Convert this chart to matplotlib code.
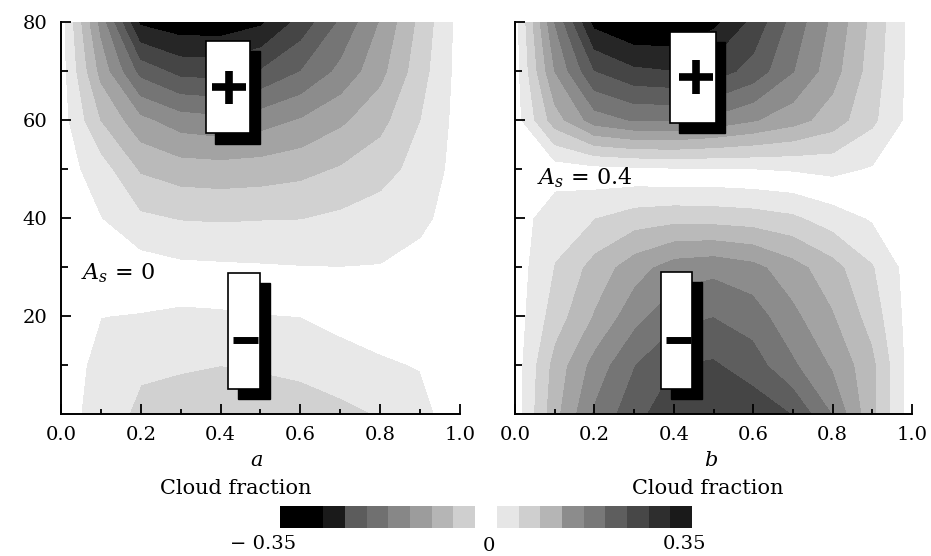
import matplotlib
matplotlib.use("Agg")
import matplotlib.pyplot as plt
import numpy as np
from matplotlib.cm import ScalarMappable
from matplotlib.colors import BoundaryNorm, ListedColormap
from matplotlib.patches import Rectangle
from matplotlib.ticker import FormatStrFormatter, MultipleLocator
from matplotlib.transforms import ScaledTranslation

plt.rcParams["font.family"] = ["DejaVu Serif"]
plt.rcParams["mathtext.fontset"] = "dejavuserif"

# grid: cloud fraction (x) and latitude rows (top to bottom)
cloud = [0.0, 0.1, 0.2, 0.3, 0.4, 0.5, 0.6, 0.7, 0.8, 0.9, 1.0]
lat = [80, 70, 60, 50, 40, 30, 20, 10, 0]

# panel a, A_s = 0
field_a = [
    [0, 0.177, 0.355, 0.372, 0.372, 0.355, 0.298, 0.232, 0.162, 0.081, 0.004],
    [0, 0.140, 0.251, 0.287, 0.291, 0.272, 0.238, 0.192, 0.140, 0.070, 0.004],
    [0, 0.092, 0.155, 0.184, 0.192, 0.181, 0.162, 0.136, 0.103, 0.055, 0.004],
    [0, 0.037, 0.096, 0.111, 0.114, 0.111, 0.103, 0.088, 0.070, 0.041, 0.004],
    [0, 0.017, 0.048, 0.057, 0.059, 0.057, 0.056, 0.048, 0.037, 0.026, 0.002],
    [0, 0.000, 0.002, 0.011, 0.013, 0.015, 0.017, 0.018, 0.017, 0.007, 0],
    [0, -0.018, -0.020, -0.026, -0.024, -0.020, -0.018, -0.011, -0.006, -0.007, 0],
    [0, -0.029, -0.050, -0.053, -0.055, -0.052, -0.050, -0.029, -0.022, -0.017, 0],
    [0, -0.037, -0.063, -0.066, -0.077, -0.074, -0.066, -0.068, -0.052, -0.029, 0],
]

# panel b, A_s = 0.4
field_b = [
    [0, 0.203, 0.360, 0.387, 0.387, 0.358, 0.302, 0.225, 0.158, 0.081, 0.004],
    [0, 0.166, 0.275, 0.305, 0.312, 0.295, 0.262, 0.204, 0.144, 0.074, 0.004],
    [0, 0.111, 0.184, 0.206, 0.206, 0.192, 0.169, 0.144, 0.111, 0.063, 0.004],
    [0, 0.000, 0.007, 0.011, 0.015, 0.015, 0.018, 0.022, 0.028, 0.015, 0],
    [0, -0.041, -0.055, -0.074, -0.081, -0.079, -0.074, -0.063, -0.037, -0.015, 0],
    [0, -0.057, -0.107, -0.150, -0.184, -0.192, -0.178, -0.144, -0.107, -0.059, 0],
    [0, -0.074, -0.133, -0.190, -0.229, -0.239, -0.222, -0.176, -0.133, -0.077, 0],
    [0, -0.107, -0.181, -0.239, -0.276, -0.282, -0.258, -0.210, -0.162, -0.103, 0],
    [0, -0.118, -0.210, -0.265, -0.302, -0.309, -0.302, -0.276, -0.203, -0.103, 0],
]

bounds = np.linspace(-0.35, 0.35, 20)
cbar_ticks = [-0.35, 0, 0.35]
cbar_ticklabels = ["\u2212 0.35", "0", "0.35"]

# shading: same grey for the same magnitude in the panels
side = [0.15, 0.27, 0.37, 0.46, 0.55, 0.64, 0.73, 0.82, 0.91]
field_greys = side + [1.0] + side[::-1]
# the printed colour bar as it appears
cbar_greys = [0.0, 0.0, 0.1, 0.36, 0.44, 0.53, 0.61, 0.71, 0.81, 1.0,
              0.9, 0.81, 0.71, 0.55, 0.47, 0.37, 0.28, 0.18, 0.1]

# sign boxes: (x0, y0, width, height) in data units, sign, sign centre
boxes_a = [((0.363, 57.3, 0.111, 18.8), "+", (0.421, 66.7)),
           ((0.419, 5.1, 0.080, 23.7), "-", (0.462, 15.1))]
boxes_b = [((0.390, 59.4, 0.116, 18.6), "+", (0.456, 68.8)),
           ((0.368, 5.1, 0.078, 23.9), "-", (0.412, 15.1))]
shadow_dx, shadow_dy = 0.024, -2.1


def grey_cmap(greys):
    return ListedColormap([(g, g, g) for g in greys])


def draw_box(ax, rect, sign, centre):
    x0, y0, w, h = rect
    ax.add_patch(Rectangle((x0 + shadow_dx, y0 + shadow_dy), w, h,
                           facecolor="black", edgecolor="black", zorder=3))
    ax.add_patch(Rectangle((x0, y0), w, h, facecolor="white",
                           edgecolor="black", linewidth=1.2, zorder=4))
    cx, cy = centre
    if sign == "+":
        ax.plot([cx - 0.043, cx + 0.043], [cy, cy], color="black",
                linewidth=5.5, solid_capstyle="butt", zorder=5)
        ax.plot([cx, cx], [cy - 3.4, cy + 3.4], color="black",
                linewidth=5.5, solid_capstyle="butt", zorder=5)
    else:
        ax.plot([cx - 0.031, cx + 0.031], [cy, cy], color="black",
                linewidth=5.0, solid_capstyle="butt", zorder=5)


def draw_panel(ax, field, boxes, label, label_pos, show_ylabels):
    cmap = grey_cmap(field_greys)
    cmap.set_over("black")
    cmap.set_under("black")
    norm = BoundaryNorm(bounds, cmap.N)
    ax.contourf(cloud, lat, np.array(field), levels=bounds, cmap=cmap,
                norm=norm, extend="both", antialiased=False)
    for rect, sign, centre in boxes:
        draw_box(ax, rect, sign, centre)
    ax.text(label_pos[0], label_pos[1], label, fontsize=16, va="center",
            zorder=6)

    ax.set_xlim(0, 1)
    ax.set_ylim(0, 80)
    for s in ("top", "right"):
        ax.spines[s].set_visible(False)
    for s in ("left", "bottom"):
        ax.spines[s].set_linewidth(1.4)
        ax.spines[s].set_zorder(7)
    ax.xaxis.set_major_locator(MultipleLocator(0.2))
    ax.xaxis.set_minor_locator(MultipleLocator(0.1))
    ax.xaxis.set_major_formatter(FormatStrFormatter("%.1f"))
    ax.set_yticks([20, 40, 60, 80])
    ax.set_yticks([10, 30, 50, 70], minor=True)
    ax.tick_params(which="both", direction="in", width=1.3, labelsize=14)
    ax.tick_params(axis="x", which="major", length=7, pad=9)
    ax.tick_params(axis="x", which="minor", length=3.5)
    ax.tick_params(axis="y", which="major", length=7, pad=10)
    ax.tick_params(axis="y", which="minor", length=5)
    if not show_ylabels:
        ax.tick_params(axis="y", labelleft=False)


fig = plt.figure(figsize=(9.31, 5.56), dpi=100)
ax_a = fig.add_axes([0.0655, 0.2554, 0.4286, 0.705])
ax_b = fig.add_axes([0.5532, 0.2554, 0.4264, 0.705])

draw_panel(ax_a, field_a, boxes_a, "$A_s$ = 0", (0.05, 28.8), True)
draw_panel(ax_b, field_b, boxes_b, "$A_s$ = 0.4", (0.055, 48.2), False)

fig.text(257 / 931, 1 - 460 / 556, "a", fontsize=15, style="italic",
         ha="center", va="center")
fig.text(711 / 931, 1 - 460 / 556, "b", fontsize=15, style="italic",
         ha="center", va="center")
fig.text(236 / 931, 1 - 489 / 556, "Cloud fraction", fontsize=15,
         ha="center", va="center")
fig.text(708 / 931, 1 - 489 / 556, "Cloud fraction", fontsize=15,
         ha="center", va="center")

cax = fig.add_axes([280 / 931, 1 - 528 / 556, 412 / 931, 22 / 556])
cb_norm = BoundaryNorm(bounds, len(cbar_greys))
cbar = fig.colorbar(ScalarMappable(norm=cb_norm, cmap=grey_cmap(cbar_greys)),
                    cax=cax, orientation="horizontal")
cbar.set_ticks(cbar_ticks, labels=cbar_ticklabels)
cbar.outline.set_visible(False)
cax.minorticks_off()
cax.tick_params(which="both", length=0, labelsize=14, pad=5)
# nudge the colour bar labels to where the printed ones sit
for lab, (dx, dy) in zip(cax.get_xticklabels(), [(-17, 0), (3, -2), (-7, 0)]):
    lab.set_transform(lab.get_transform()
                      + ScaledTranslation(dx / 100, dy / 100, fig.dpi_scale_trans))

fig.savefig("out.png", dpi=100)
